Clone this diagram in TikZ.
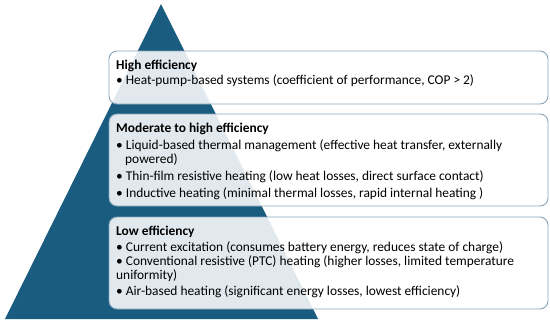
\documentclass[tikz,border=0pt]{standalone}
\usepackage{fontspec}
\setmainfont{Carlito}
\definecolor{tri}{RGB}{26,92,128}
\definecolor{boxline}{RGB}{135,165,186}
\begin{document}
\begin{tikzpicture}[x=1pt,y=-1pt,
  tier/.style={draw=boxline,line width=0.9pt,fill=white,fill opacity=0.87,rounded corners=8pt},
  ttl/.style={anchor=base west,inner sep=0pt,font=\fontsize{13.4}{15}\selectfont\bfseries},
  txt/.style={anchor=base west,inner sep=0pt,font=\fontsize{13.4}{15}\selectfont}]
\useasboundingbox (0,0) rectangle (550,324);
\fill[tri] (5,319) -- (161,4) -- (318,319) -- cycle;
\path[tier] (109,51) rectangle (548,104);
\path[tier] (109,114) rectangle (548,206);
\path[tier] (109,217) rectangle (548,309);
\node[ttl] (t1) at (116,69) {High efficiency};
\node[txt] (a1) at (116,84.5) {• Heat-pump-based systems (coefficient of performance, COP > 2)};
\node[ttl] (t2) at (116,132.7) {Moderate to high efficiency};
\node[txt] (b1) at (116,149.3) {• Liquid-based thermal management (effective heat transfer, externally};
\node[txt] (b1c) at (125,163.3) {powered)};
\node[txt] (b2) at (116,180.7) {• Thin-film resistive heating (low heat losses, direct surface contact)};
\node[txt] (b3) at (116,197.3) {• Inductive heating (minimal thermal losses, rapid internal heating )};
\node[ttl] (t3) at (116,235) {Low efficiency};
\node[txt] (c1) at (116,251.7) {• Current excitation (consumes battery energy, reduces state of charge)};
\node[txt] (c2) at (116,265.7) {• Conventional resistive (PTC) heating (higher losses, limited temperature};
\node[txt] (c2c) at (116,279.3) {uniformity)};
\node[txt] (c3) at (116,295) {• Air-based heating (significant energy losses, lowest efficiency)};
\end{tikzpicture}
\end{document}
